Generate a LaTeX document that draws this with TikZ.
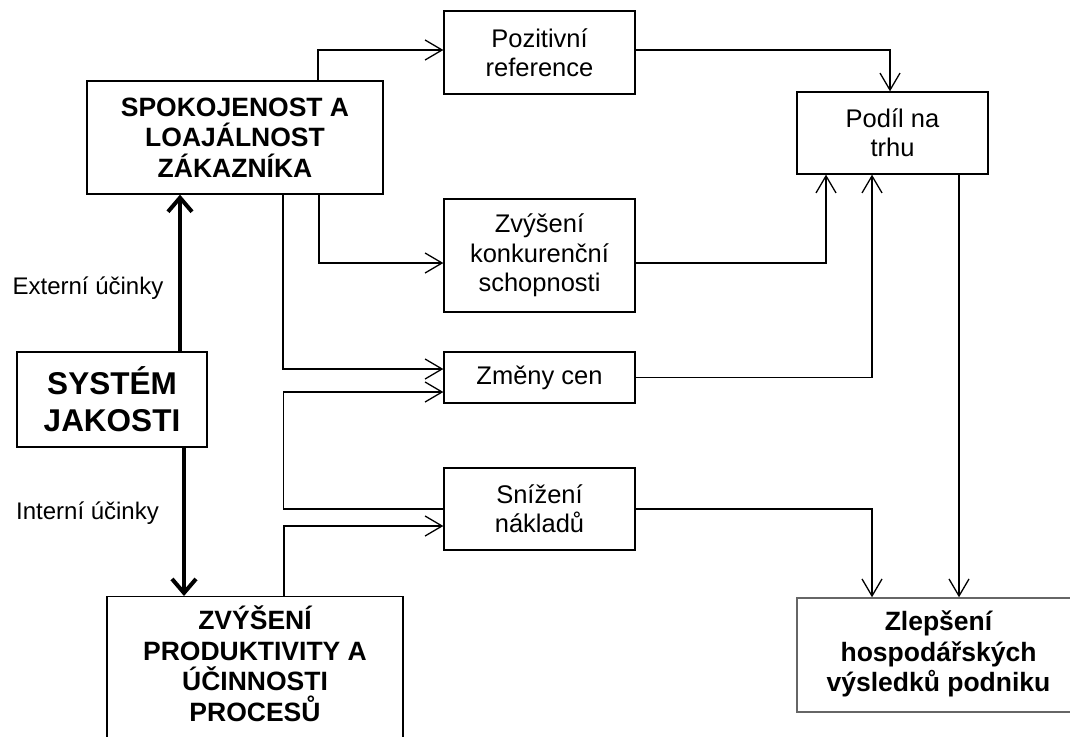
\documentclass[tikz,border=0pt]{standalone}
\usepackage{fontspec}
\setmainfont{Liberation Sans}
\usetikzlibrary{arrows.meta}
\begin{document}
\begin{tikzpicture}[x=1pt, y=-1pt, line width=1.3pt, >={Straight Barb[length=17pt,width=20pt]},
	box/.style={draw, align=center, inner sep=0pt, minimum width=191pt, font=\fontsize{25.5}{29.3}\selectfont},
	bbox/.style={draw, align=center, inner sep=0pt, font=\fontsize{26.5}{30.7}\selectfont\bfseries},
	silna/.style={line width=4pt, -{Straight Barb[length=14pt,width=24pt]}},
	popis/.style={font=\fontsize{24}{28}\selectfont}]
	\useasboundingbox (0,0) rectangle (1070,736);
	\clip (0,0) rectangle (1070,736);
	% boxes
	\node[bbox, minimum width=296pt, minimum height=113pt] (spok) at (235,137.5) {SPOKOJENOST A\\LOAJÁLNOST\\ZÁKAZNÍKA};
	\node[bbox, minimum width=190pt, minimum height=95pt, font=\fontsize{31.5}{36.7}\selectfont\bfseries] (system) at (112,399.5) {SYSTÉM\\JAKOSTI};
	\node[bbox, minimum width=296pt, inner ysep=9pt, text depth=30pt, anchor=north] (prod) at (255,596) {ZVÝŠENÍ\\PRODUKTIVITY A\\ÚČINNOSTI\\PROCESŮ};
	\node[box, minimum height=83pt] (poz) at (539.5,52.5) {Pozitivní\\reference};
	\node[box, minimum height=113pt] (konk) at (539.5,255.5) {Zvýšení\\konkurenční\\schopnosti};
	\node[box, minimum height=51pt] (ceny) at (539.5,377.5) {Změny cen};
	\node[box, minimum height=82pt] (naklady) at (539.5,509) {Snížení\\nákladů};
	\node[box, minimum height=82pt] (podil) at (892.5,133) {Podíl na\\trhu};
	\node[bbox, draw=black!60, line width=1.5pt, minimum width=320pt, minimum height=114pt] (vysl) at (957,655)
		{\begin{tabular}{@{}c@{\hspace{37pt}}}Zlepšení\\hospodářských\\výsledků podniku\end{tabular}};
	\node[popis] (ext) at (88,288) {Externí účinky};
	\node[popis] (int) at (87.5,513) {Interní účinky};
	% thick arrows
	\draw[silna] ([xshift=68pt]system.north) -- ([xshift=68pt]system.north |- spok.south);
	\draw[silna] ([xshift=72pt]system.south) -- ([xshift=72pt]system.south |- prod.north);
	% connectors
	\draw[->] ([xshift=83pt]spok.north) |- ([yshift=2.5pt]poz.west);
	\draw[->] ([xshift=84pt]spok.south) |- ([yshift=-7.5pt]konk.west);
	\draw[->] ([xshift=48pt]spok.south) |- ([yshift=8.5pt]ceny.west);
	\draw[->] (naklady.west) -| ([xshift=-160pt,yshift=-14.5pt]ceny.west) -- ([yshift=-14.5pt]ceny.west);
	\draw[->] ([xshift=29pt]prod.north) |- ([yshift=-17pt]naklady.west);
	\draw[->] ([yshift=2.5pt]poz.east) -| ([xshift=-2.5pt]podil.north);
	\draw[->] ([yshift=-7.5pt]konk.east) -| ([xshift=-66.5pt]podil.south);
	\draw[->] (ceny.east) -| ([xshift=-20.5pt]podil.south);
	\draw[->] ([xshift=66.5pt]podil.south) -- ([xshift=66.5pt]podil.south |- vysl.north);
	\draw[->] (naklady.east) -| ([xshift=-85pt]vysl.north);
\end{tikzpicture}
\end{document}
